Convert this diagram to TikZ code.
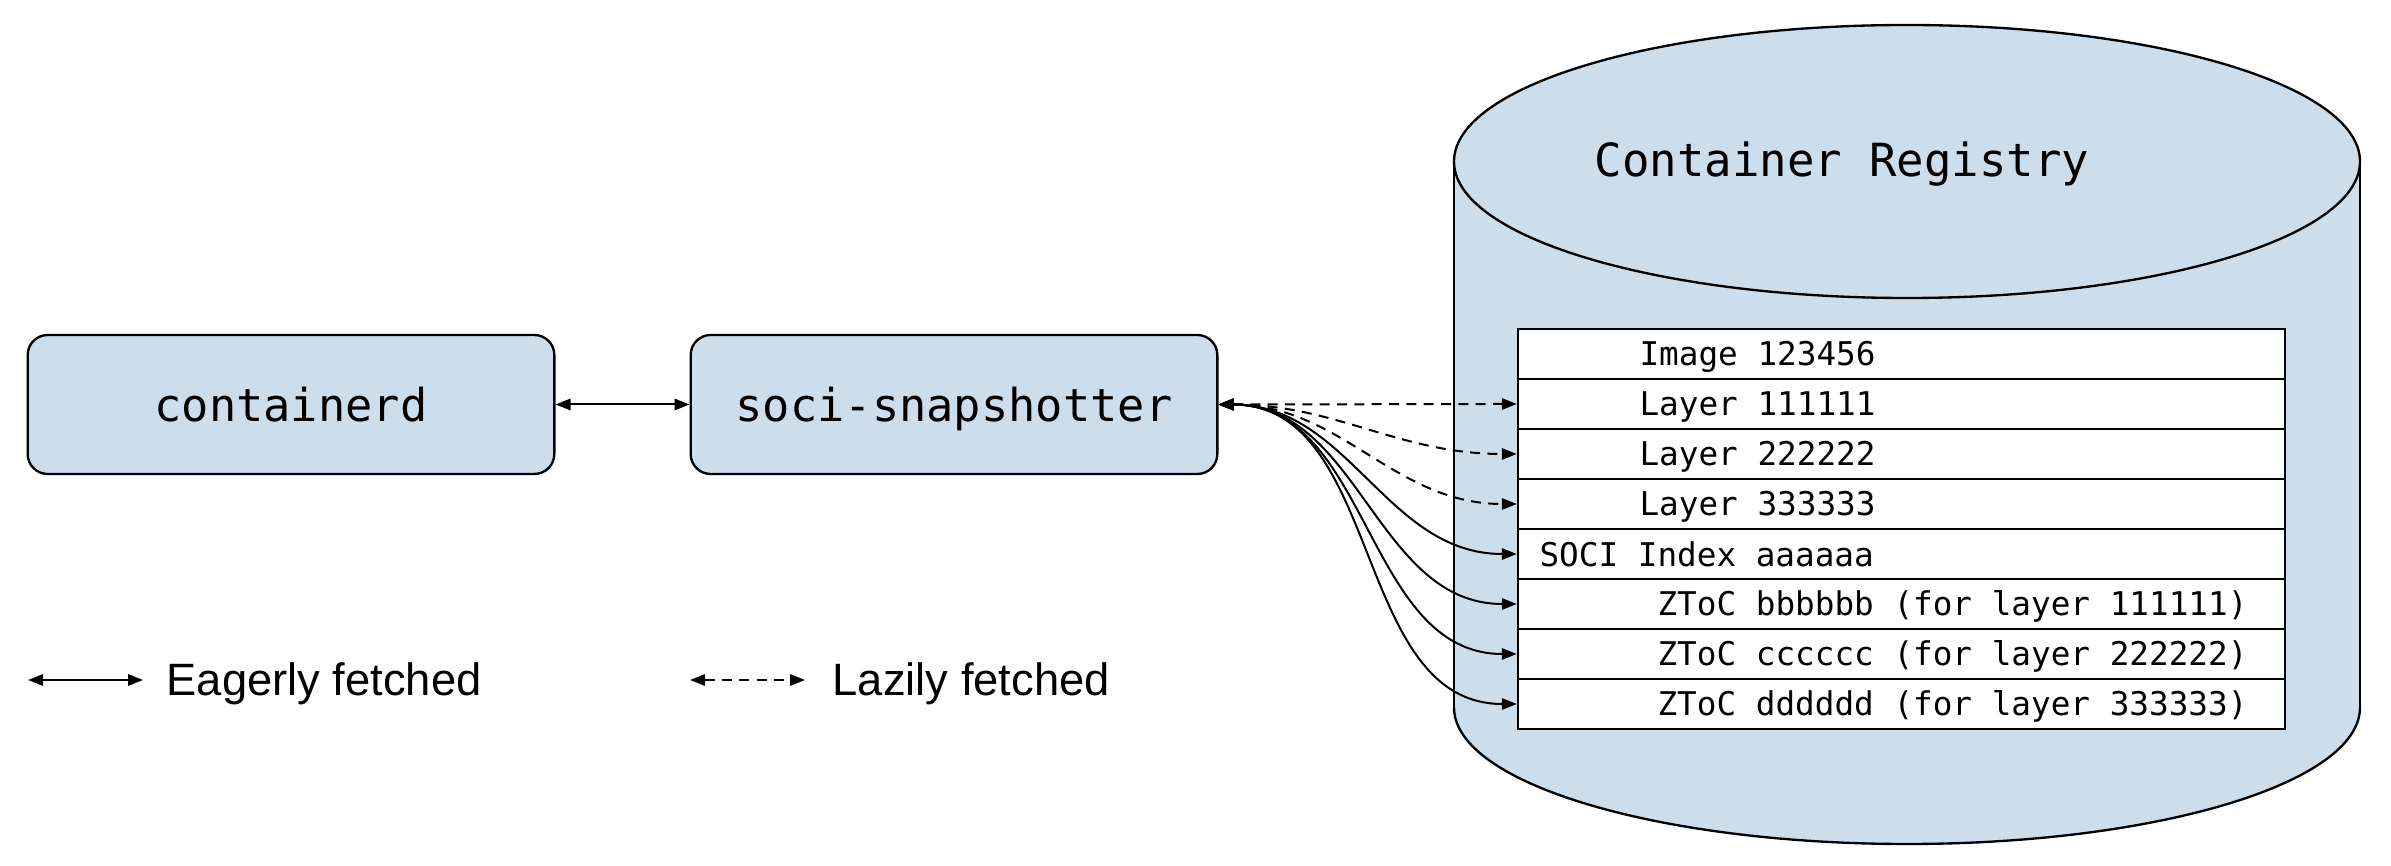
\documentclass[tikz,border=0pt]{standalone}
\usepackage{fontspec}
\setmainfont{Liberation Sans}
\setmonofont{DejaVu Sans Mono}
\usetikzlibrary{arrows.meta,calc}
\definecolor{regblue}{RGB}{204,221,236}
\begin{document}
\begin{tikzpicture}[x=0.3pt,y=-0.3pt,
  conn/.style={line width=0.6pt,{Triangle[length=4.5pt,width=3.4pt]}-{Triangle[length=4.5pt,width=3.4pt]}},
  lazy/.style={dash pattern=on 3pt off 2.2pt},
  compbox/.style={draw,line width=0.7pt,fill=regblue,rounded corners=6pt,
    minimum width=158pt,minimum height=41.7pt,inner sep=0pt,
    font=\fontsize{13.6}{16}\selectfont\ttfamily,text height=10.2pt,text depth=0pt},
  tabrow/.style={draw,line width=0.7pt,fill=white,minimum width=230.1pt,minimum height=15pt,inner sep=0pt},
  rowtext/.style={anchor=base west,inner sep=0pt,font=\fontsize{9.8}{12}\selectfont\ttfamily},
  legtext/.style={anchor=base west,inner sep=0pt,font=\fontsize{13.6}{16}\selectfont}]
\useasboundingbox (0,0) rectangle (2391,866);

% cylinder (Container Registry)
\fill[regblue] (1454,161.5) rectangle (2360,707.5);
\fill[regblue] (1907,707.5) ellipse [x radius=453, y radius=136.5];
\begin{scope}
  \clip (1400,707.5) rectangle (2420,866);
  \draw[line width=0.7pt] (1907,707.5) ellipse [x radius=453, y radius=136.5];
\end{scope}
\draw[line width=0.7pt] (1454,161.5) -- (1454,707.5);
\draw[line width=0.7pt] (2360,161.5) -- (2360,707.5);
\draw[line width=0.7pt,fill=regblue] (1907,161.5) ellipse [x radius=453, y radius=136.5];
\node[anchor=base,inner sep=0pt,font=\fontsize{13.7}{16}\selectfont\ttfamily] (reg) at (1842,177) {Container Registry};

% table rows
\node[tabrow] (row1) at (1901.5,354) {};
\node[tabrow] (row2) at (1901.5,404) {};
\node[tabrow] (row3) at (1901.5,454) {};
\node[tabrow] (row4) at (1901.5,504) {};
\node[tabrow] (row5) at (1901.5,554) {};
\node[tabrow] (row6) at (1901.5,604) {};
\node[tabrow] (row7) at (1901.5,654) {};
\node[tabrow] (row8) at (1901.5,704) {};

\node[rowtext] (t1) at ($(row1.west)+(122,12)$) {Image 123456};
\node[rowtext] (t2) at ($(row2.west)+(122,12)$) {Layer 111111};
\node[rowtext] (t3) at ($(row3.west)+(122,12)$) {Layer 222222};
\node[rowtext] (t4) at ($(row4.west)+(122,12)$) {Layer 333333};
\node[rowtext] (t5) at ($(row5.west)+(22,12)$) {SOCI Index aaaaaa};
\node[rowtext] (t6) at ($(row6.west)+(140,12)$) {ZToC bbbbbb (for layer 111111)};
\node[rowtext] (t7) at ($(row7.west)+(140,12)$) {ZToC cccccc (for layer 222222)};
\node[rowtext] (t8) at ($(row8.west)+(140,12)$) {ZToC dddddd (for layer 333333)};

% components
\node[compbox] (ctrd) at (291,404.5) {containerd};
\node[compbox] (soci) at (954,404.5) {soci-snapshotter};

\draw[conn] (ctrd.east) -- (soci.west);

% connectors to registry rows
\draw[conn,lazy] (soci.east) to[out=0,in=180] (row2.west);
\draw[conn,lazy] (soci.east) to[out=0,in=180] (row3.west);
\draw[conn,lazy] (soci.east) to[out=0,in=180] (row4.west);
\draw[conn] (soci.east) to[out=0,in=180] (row5.west);
\draw[conn] (soci.east) to[out=0,in=180] (row6.west);
\draw[conn] (soci.east) to[out=0,in=180] (row7.west);
\draw[conn] (soci.east) to[out=0,in=180] (row8.west);

% legend
\coordinate (e1) at (28,680);
\coordinate (e2) at (143,680);
\coordinate (l1) at (690,680);
\coordinate (l2) at (805,680);
\draw[conn] (e1) -- (e2);
\draw[conn,lazy] (l1) -- (l2);
\node[legtext] (eager) at (166,695) {Eagerly fetched};
\node[legtext] (lazytxt) at (832,695) {Lazily fetched};
\end{tikzpicture}
\end{document}
